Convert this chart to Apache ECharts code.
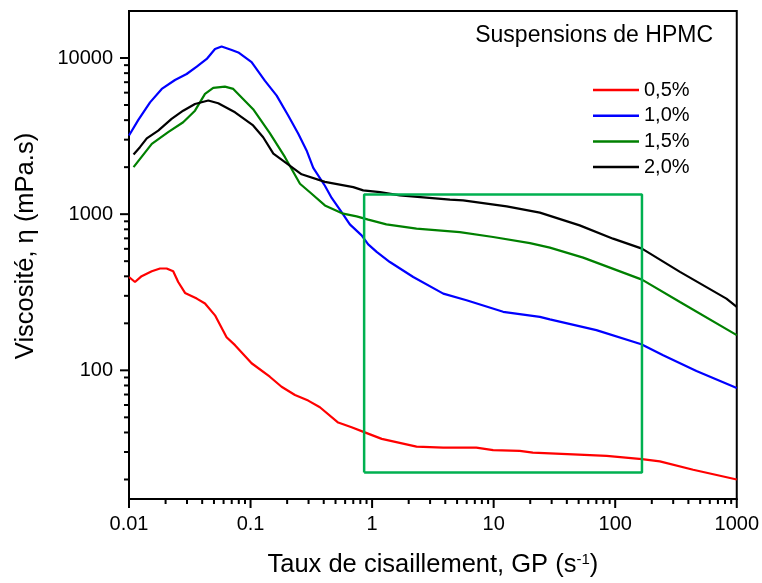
<!DOCTYPE html>
<html>
<head>
<meta charset="utf-8">
<script src="https://cdn.jsdelivr.net/npm/echarts@6/dist/echarts.min.js"></script>
<style>
  html, body { margin: 0; padding: 0; background: #fff; }
  #chart { width: 762px; height: 583px; }
</style>
</head>
<body>
<div id="chart"></div>
<script>
// Shear rate (s^-1) vs viscosity (mPa.s), HPMC suspensions
const seriesNames = ['0,5%', '1,0%', '1,5%', '2,0%'];
const seriesColors = ['#ff0000', '#0000ff', '#008000', '#000000'];

const hpmc05 = [
  [0.0100, 396], [0.0112, 368], [0.0127, 401], [0.0154, 431], [0.0180, 449],
  [0.0204, 449], [0.0231, 431], [0.0254, 368], [0.0289, 313], [0.0361, 288],
  [0.0422, 268], [0.051, 225], [0.0635, 163], [0.0745, 145], [0.102, 111],
  [0.144, 91], [0.180, 78.5], [0.232, 69.5], [0.298, 64], [0.372, 58],
  [0.526, 46.3], [0.678, 43.2], [0.86, 40.2], [1.20, 36.4], [2.32, 32.5],
  [3.85, 32.0], [7.2, 32.0], [9.9, 30.8], [16.4, 30.5], [21, 29.7],
  [45, 29], [85, 28.3], [166, 27], [233, 26.1], [438, 23.1], [1000, 20]
];

const hpmc10 = [
  [0.0100, 3190], [0.0119, 4000], [0.0149, 5200], [0.0186, 6340], [0.0239, 7230],
  [0.0298, 7900], [0.0361, 8800], [0.0436, 9860], [0.051, 11410], [0.0578, 11860],
  [0.070, 11250], [0.0793, 10860], [0.102, 9400], [0.131, 7160], [0.164, 5740],
  [0.204, 4280], [0.247, 3270], [0.289, 2560], [0.328, 1980], [0.409, 1520],
  [0.465, 1270], [0.561, 1030], [0.656, 860], [0.82, 731], [0.929, 640],
  [1.09, 573], [1.40, 494], [2.18, 396], [3.85, 310], [5.98, 281],
  [11.97, 237], [24, 220], [29, 212], [70, 181], [164, 147],
  [248, 125], [466, 99], [1000, 77]
];

const hpmc15 = [
  [0.0109, 2000], [0.0154, 2820], [0.021, 3350], [0.0279, 3880], [0.0349, 4600],
  [0.0422, 5890], [0.0493, 6430], [0.0615, 6560], [0.0721, 6340], [0.105, 4700],
  [0.144, 3300], [0.192, 2317], [0.255, 1567], [0.318, 1352], [0.409, 1138],
  [0.578, 1007], [0.746, 968], [0.93, 922], [1.31, 861], [2.32, 808],
  [5.27, 768], [9.9, 714], [19.9, 653], [29, 611], [54.5, 527],
  [166, 381], [341, 274], [1000, 168]
];

const hpmc20 = [
  [0.0109, 2410], [0.0123, 2685], [0.014, 3060], [0.0174, 3430], [0.0224, 4075],
  [0.0279, 4600], [0.0349, 5080], [0.0449, 5340], [0.0542, 5130], [0.0745, 4490],
  [0.105, 3700], [0.127, 3110], [0.154, 2440], [0.192, 2155], [0.263, 1800],
  [0.409, 1610], [0.70, 1490], [0.845, 1420], [1.16, 1384], [1.69, 1318],
  [4.37, 1238], [5.61, 1225], [12.8, 1122], [24, 1023], [51, 848],
  [96, 697], [166, 602], [341, 427], [822, 288], [1000, 255]
];

// Highlighted plateau region (shear-rate and viscosity bounds)
const zoneShear = [0.86, 166];
const zoneVisc = [22.2, 1337];

// Axis ranges and labelled decades
const xRange = [0.01, 1000];
const yRange = [15, 20000];
const xDecades = [0.01, 0.1, 1, 10, 100, 1000];
const yDecades = [100, 1000, 10000];

// Logarithmic minor tick positions (2..9 within each decade)
function minorTicks(decades) {
  const out = [];
  decades.forEach(d => {
    for (let k = 2; k <= 9; k++) out.push(+(d * k).toPrecision(6));
  });
  return out;
}
const xMinor = minorTicks([0.01, 0.1, 1, 10, 100]);
const yMinor = minorTicks([10, 100, 1000]).filter(v => v >= yRange[0] && v <= yRange[1]);

// tick records: [value, onYAxis, isMajor]
const tickData = []
  .concat(xDecades.map(v => [v, 0, 1]))
  .concat(xMinor.map(v => [v, 0, 0]))
  .concat(yDecades.map(v => [v, 1, 1]))
  .concat(yMinor.map(v => [v, 1, 0]));

const zonePath = [
  [zoneShear[0], zoneVisc[0]], [zoneShear[1], zoneVisc[0]],
  [zoneShear[1], zoneVisc[1]], [zoneShear[0], zoneVisc[1]],
  [zoneShear[0], zoneVisc[0]]
];

const FONT = '"Liberation Sans", Arial, Helvetica, sans-serif';

function isDecade(v) {
  const l = Math.log10(v);
  return Math.abs(l - Math.round(l)) < 1e-6;
}

const chart = echarts.init(document.getElementById('chart'), null, { renderer: 'canvas' });

const curves = [hpmc05, hpmc10, hpmc15, hpmc20].map((data, i) => ({
  name: seriesNames[i],
  type: 'line',
  data: data,
  showSymbol: false,
  symbol: 'none',
  smooth: false,
  lineStyle: { color: seriesColors[i], width: 2.2 },
  itemStyle: { color: seriesColors[i] },
  z: 3,
  animation: false
}));

const option = {
  animation: false,
  backgroundColor: '#ffffff',
  textStyle: { fontFamily: FONT, color: '#000' },
  title: {
    text: 'Suspensions de HPMC',
    right: 44,
    top: 19,
    textStyle: { fontFamily: FONT, fontSize: 23, fontWeight: 'normal', color: '#000' }
  },
  legend: {
    data: seriesNames,
    orient: 'vertical',
    left: 588,
    top: 75,
    icon: 'rect',
    itemWidth: 46,
    itemHeight: 2.5,
    itemGap: 5.7,
    textStyle: { fontFamily: FONT, fontSize: 20, color: '#000', lineHeight: 20 },
    selectedMode: false
  },
  grid: {
    left: 129, right: 25, top: 11, bottom: 84,
    show: true,
    borderColor: '#000',
    borderWidth: 2,
    backgroundColor: 'transparent'
  },
  xAxis: {
    type: 'log',
    logBase: 10,
    min: xRange[0],
    max: xRange[1],
    name: 'Taux de cisaillement, GP (s{sup|-1})',
    nameLocation: 'middle',
    nameGap: 53,
    nameTextStyle: {
      fontFamily: FONT, fontSize: 25.5, color: '#000',
      rich: { sup: { fontFamily: FONT, fontSize: 15, verticalAlign: 'top', lineHeight: 15, color: '#000' } }
    },
    axisLine: { show: true, lineStyle: { color: '#000', width: 2 } },
    axisTick: { show: false },
    minorTick: { show: false },
    splitLine: { show: false },
    axisLabel: {
      margin: 15,
      fontFamily: FONT, fontSize: 20, color: '#000',
      formatter: v => isDecade(v) ? String(Number(v.toPrecision(3))) : ''
    }
  },
  yAxis: {
    type: 'log',
    logBase: 10,
    min: yRange[0],
    max: yRange[1],
    name: 'Viscosité, η (mPa.s)',
    nameLocation: 'middle',
    nameGap: 90,
    nameTextStyle: { fontFamily: FONT, fontSize: 25.5, color: '#000', padding: [0, 0, 0, 18] },
    axisLine: { show: true, lineStyle: { color: '#000', width: 2 } },
    axisTick: { show: false },
    minorTick: { show: false },
    splitLine: { show: false },
    axisLabel: {
      margin: 16,
      fontFamily: FONT, fontSize: 20, color: '#000',
      showMinLabel: false,
      showMaxLabel: false,
      formatter: v => isDecade(v) ? String(Math.round(v)) : ''
    }
  },
  series: curves.concat([
    {
      name: 'zone',
      type: 'line',
      data: zonePath,
      symbol: 'none',
      showSymbol: false,
      lineStyle: { color: '#00b050', width: 2.5 },
      itemStyle: { color: '#00b050' },
      z: 4,
      silent: true,
      animation: false
    },
    {
      // outward major/minor tick marks of both log axes
      name: 'ticks',
      type: 'custom',
      data: tickData,
      clip: false,
      silent: true,
      z: 5,
      renderItem: function (params, api) {
        const v = api.value(0);
        const onY = api.value(1) === 1;
        const len = api.value(2) === 1 ? 9 : 5;
        let p, shape;
        if (onY) {
          p = api.coord([xRange[0], v]);
          shape = { x1: p[0], y1: p[1], x2: p[0] - len, y2: p[1] };
        } else {
          p = api.coord([v, yRange[0]]);
          shape = { x1: p[0], y1: p[1], x2: p[0], y2: p[1] + len };
        }
        return {
          type: 'line',
          shape: shape,
          style: { stroke: '#000', lineWidth: 2 }
        };
      }
    }
  ])
};

chart.setOption(option);
</script>
</body>
</html>
